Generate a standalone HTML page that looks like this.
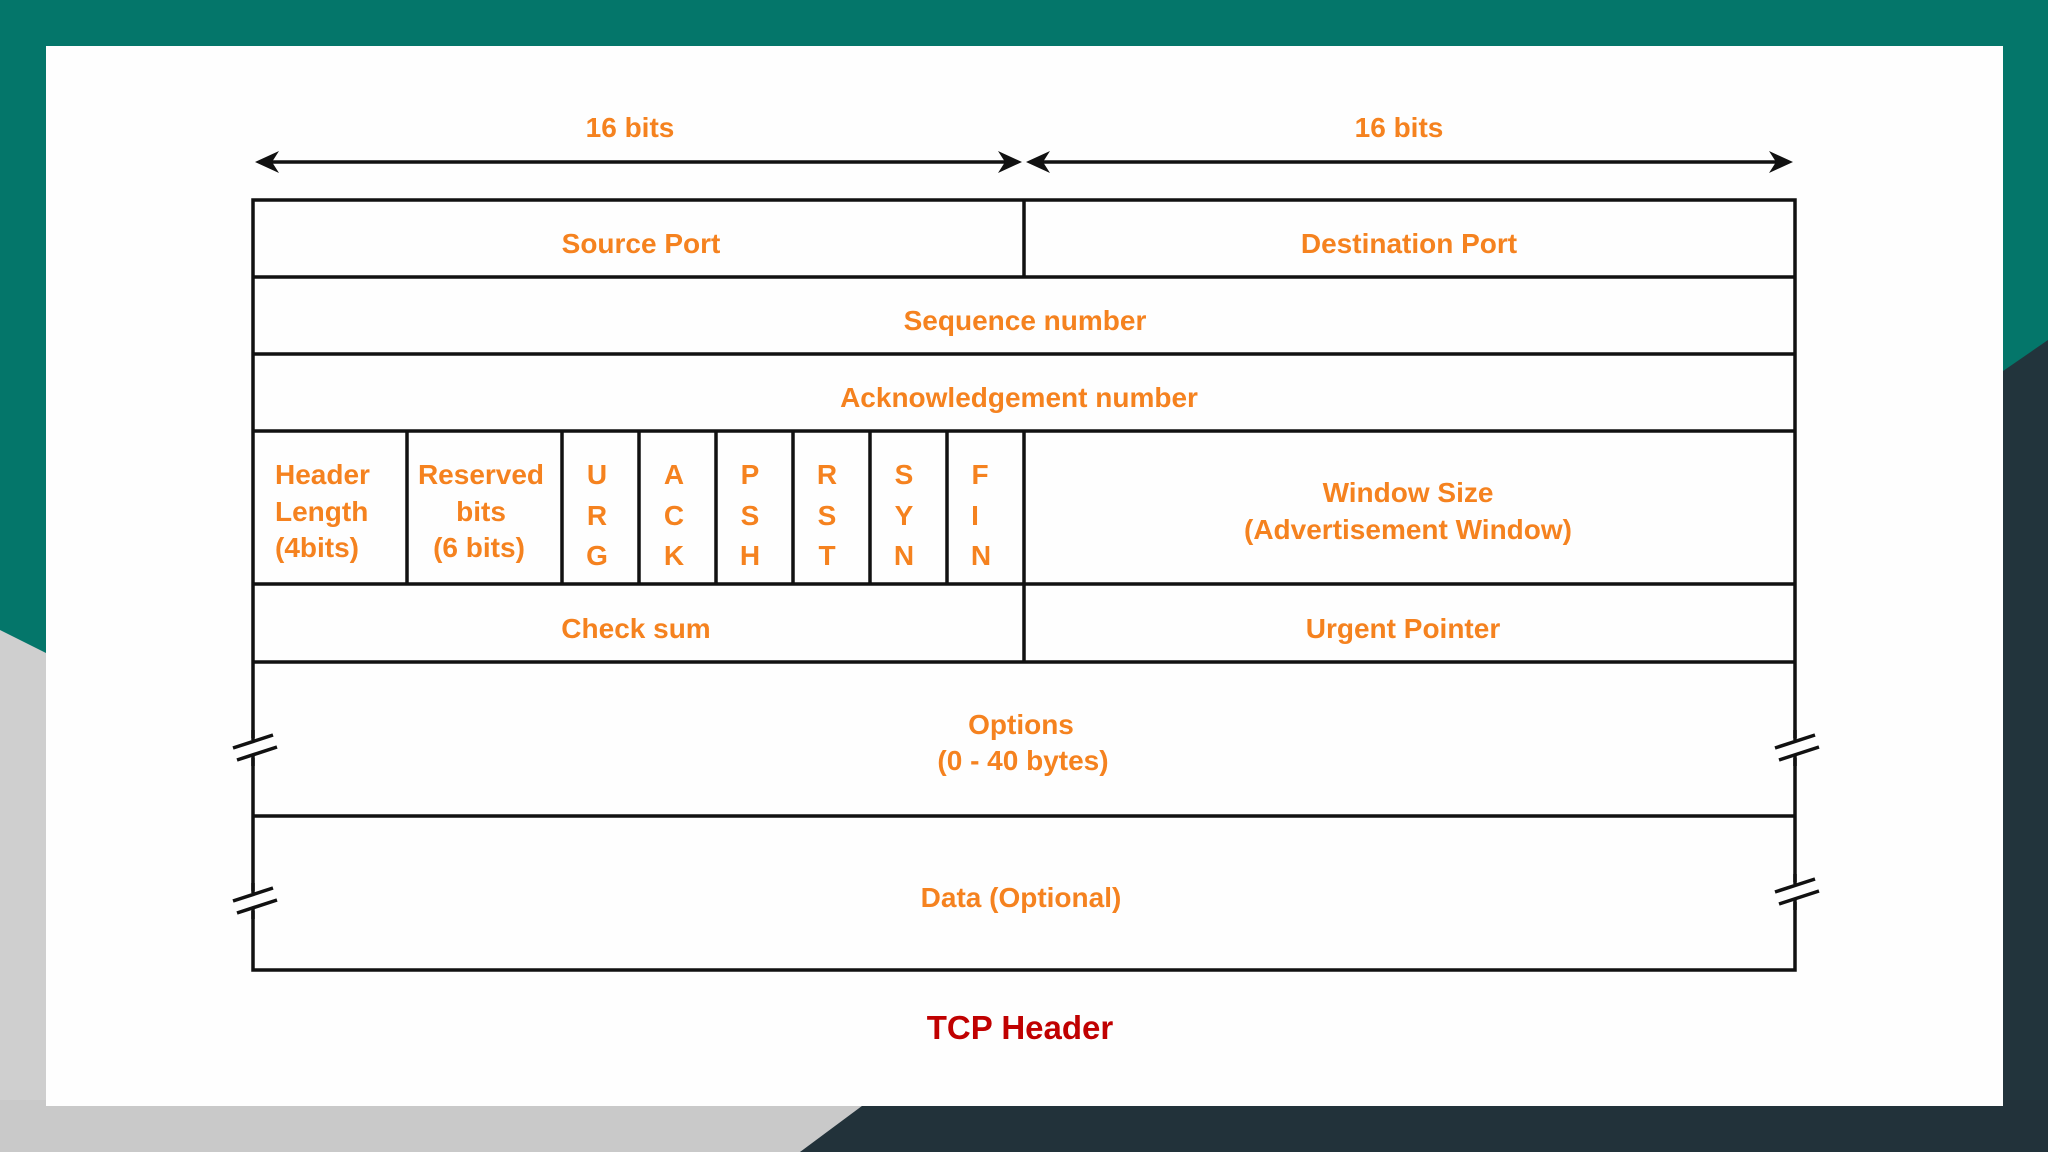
<!DOCTYPE html>
<html><head><meta charset="utf-8"><style>
html,body{margin:0;padding:0;width:2048px;height:1152px;overflow:hidden;background:#04766a;}
svg{display:block}
</style></head><body>
<svg width="2048" height="1152" viewBox="0 0 2048 1152" xmlns="http://www.w3.org/2000/svg">
<rect x="0" y="0" width="2048" height="1152" fill="#04766a"/>
<polygon points="0,630 60,660 60,1152 0,1152" fill="#cfcfcf"/>
<polygon points="0,1100 900,1100 800,1152 0,1152" fill="#c9c9c9"/>
<polygon points="2048,340 1990,380 1990,1152 2048,1152" fill="#22343c"/>
<polygon points="870,1100 2048,1100 2048,1152 800,1152" fill="#22323a"/>
<rect x="46" y="46" width="1957" height="1060" fill="#fefefe"/>
<g font-family="Liberation Sans, Arial, sans-serif" font-weight="bold" font-size="28" fill="#f5821f" text-anchor="middle">
<text x="630" y="137">16 bits</text>
<text x="1399" y="137">16 bits</text>
<text x="641" y="253">Source Port</text>
<text x="1409" y="253">Destination Port</text>
<text x="1025" y="330">Sequence number</text>
<text x="1019" y="407">Acknowledgement number</text>
<text x="275" y="484" text-anchor="start">Header</text>
<text x="275" y="521" text-anchor="start">Length</text>
<text x="275" y="557" text-anchor="start">(4bits)</text>
<text x="481" y="484">Reserved</text>
<text x="481" y="521">bits</text>
<text x="479" y="557">(6 bits)</text>
<g>
<text x="597" y="484">U</text><text x="597" y="525">R</text><text x="597" y="565">G</text>
<text x="674" y="484">A</text><text x="674" y="525">C</text><text x="674" y="565">K</text>
<text x="750" y="484">P</text><text x="750" y="525">S</text><text x="750" y="565">H</text>
<text x="827" y="484">R</text><text x="827" y="525">S</text><text x="827" y="565">T</text>
<text x="904" y="484">S</text><text x="904" y="525">Y</text><text x="904" y="565">N</text>
<text x="980" y="484">F</text><text x="975" y="525">I</text><text x="981" y="565">N</text>
</g>
<text x="1408" y="502">Window Size</text>
<text x="1408" y="539">(Advertisement Window)</text>
<text x="636" y="638">Check sum</text>
<text x="1403" y="638">Urgent Pointer</text>
<text x="1021" y="734">Options</text>
<text x="1023" y="770">(0 - 40 bytes)</text>
<text x="1021" y="907">Data (Optional)</text>
<text x="1020" y="1039" fill="#c00000" font-size="33">TCP Header</text>
</g>
<g stroke="#111" stroke-width="3.5" fill="none">
<rect x="253" y="200" width="1542" height="770"/>
<line x1="253" y1="277" x2="1795" y2="277"/>
<line x1="253" y1="354" x2="1795" y2="354"/>
<line x1="253" y1="431" x2="1795" y2="431"/>
<line x1="253" y1="584" x2="1795" y2="584"/>
<line x1="253" y1="662" x2="1795" y2="662"/>
<line x1="253" y1="816" x2="1795" y2="816"/>
<line x1="1024" y1="200" x2="1024" y2="277"/>
<line x1="1024" y1="431" x2="1024" y2="662"/>
<line x1="407" y1="431" x2="407" y2="584"/>
<line x1="562" y1="431" x2="562" y2="584"/>
<line x1="639" y1="431" x2="639" y2="584"/>
<line x1="716" y1="431" x2="716" y2="584"/>
<line x1="793" y1="431" x2="793" y2="584"/>
<line x1="870" y1="431" x2="870" y2="584"/>
<line x1="947" y1="431" x2="947" y2="584"/>
<line x1="262" y1="162" x2="1010" y2="162"/>
<line x1="1038" y1="162" x2="1786" y2="162"/>
</g>
<g fill="#111">
<polygon points="255,162 279,151 272,162 279,173"/>
<polygon points="1022,162 998,151 1005,162 998,173"/>
<polygon points="1026,162 1050,151 1043,162 1050,173"/>
<polygon points="1793,162 1769,151 1776,162 1769,173"/>
</g>
<g stroke="#fefefe" stroke-width="10">
<line x1="253" y1="738" x2="253" y2="758"/>
<line x1="253" y1="891" x2="253" y2="911"/>
<line x1="1795" y1="738" x2="1795" y2="758"/>
<line x1="1795" y1="882" x2="1795" y2="902"/>
</g>
<g stroke="#111" stroke-width="3.5">
<line x1="253" y1="730" x2="253" y2="740"/><line x1="253" y1="756" x2="253" y2="766"/>
<line x1="253" y1="883" x2="253" y2="893"/><line x1="253" y1="909" x2="253" y2="919"/>
<line x1="1795" y1="730" x2="1795" y2="740"/><line x1="1795" y1="756" x2="1795" y2="766"/>
<line x1="1795" y1="874" x2="1795" y2="884"/><line x1="1795" y1="900" x2="1795" y2="910"/>
<line x1="233" y1="748" x2="273" y2="735"/><line x1="237" y1="760" x2="277" y2="747"/>
<line x1="233" y1="901" x2="273" y2="888"/><line x1="237" y1="913" x2="277" y2="900"/>
<line x1="1775" y1="748" x2="1815" y2="735"/><line x1="1779" y1="760" x2="1819" y2="747"/>
<line x1="1775" y1="892" x2="1815" y2="879"/><line x1="1779" y1="904" x2="1819" y2="891"/>
</g>
</svg>
</body></html>
